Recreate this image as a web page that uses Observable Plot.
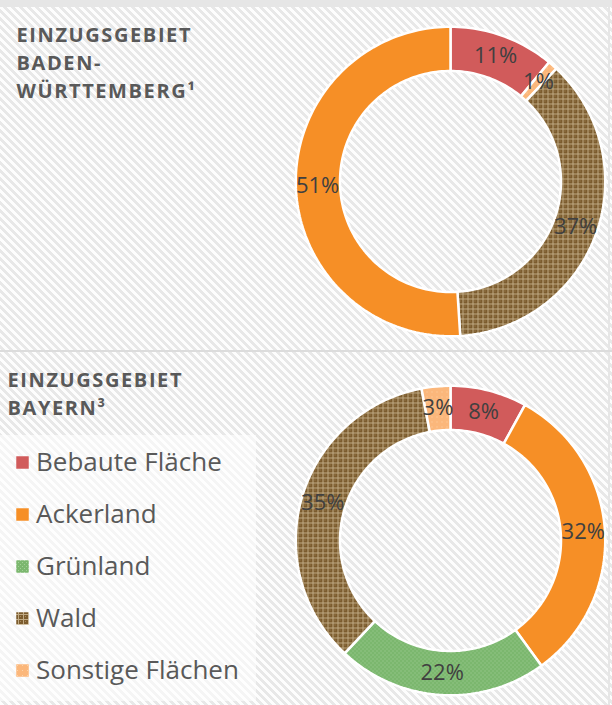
<!DOCTYPE html>
<html><head><meta charset="utf-8">
<script src="https://cdn.jsdelivr.net/npm/d3@7"></script>
<script src="https://cdn.jsdelivr.net/npm/@observablehq/plot@0.6"></script>
<style>
html,body{margin:0;padding:0;}
body{width:612px;height:705px;overflow:hidden;position:relative;font-family:"Open Sans",sans-serif;
  background:repeating-linear-gradient(45deg,#fdfdfd 0px,#fdfdfd 3px,#e8e8e8 3px,#e8e8e8 5.66px);}
.band{position:absolute;background:#e6e6e6;}
.title{position:absolute;font-weight:700;font-size:20px;line-height:28px;letter-spacing:1.6px;color:#595959;white-space:nowrap;}
.chart{position:absolute;width:320px;height:320px;}
.legend{position:absolute;left:0;top:435px;width:256px;height:266px;background:rgba(255,255,255,0.55);}
.row{position:absolute;left:0;height:52px;width:256px;}
.row svg{position:absolute;left:16px;top:21px;}
.row span{position:absolute;left:36px;top:0;font-size:26px;line-height:52px;color:#595959;white-space:nowrap;}
</style></head>
<body>
<svg width="0" height="0" style="position:absolute">
  <defs>
    <pattern id="pWald" width="5" height="5" patternUnits="userSpaceOnUse">
      <rect width="5" height="5" fill="#7c5c2e"/>
      <rect x="0" y="2" width="5" height="1" fill="#c0aa84"/>
      <rect x="2" y="0" width="1" height="5" fill="#c0aa84"/>
      <rect x="4" y="4" width="1" height="1" fill="#a3875b"/>
    </pattern>
    <pattern id="pGruen" width="4" height="4" patternUnits="userSpaceOnUse">
      <rect width="4" height="4" fill="#7bb76e"/>
      <rect x="0" y="0" width="1" height="1" fill="#a3cf98"/>
      <rect x="2" y="2" width="1" height="1" fill="#a3cf98"/>
    </pattern>
    <pattern id="pSonst" width="5" height="5" patternUnits="userSpaceOnUse">
      <rect width="5" height="5" fill="#fbb77b"/>
      <rect x="1" y="1" width="1" height="1" fill="#fdd3a8"/>
    </pattern>
  </defs>
</svg>
<div class="band" style="left:0;top:0;width:612px;height:7px;"></div>
<div class="band" style="left:608px;top:0;width:2px;height:705px;"></div>
<div class="band" style="left:0;top:350px;width:612px;height:2px;background:#dcdcdc;"></div>
<div class="title" style="left:16.5px;top:21px;">EINZUGSGEBIET<br>BADEN-<br>WÜRTTEMBERG¹</div>
<div class="title" style="left:7.5px;top:365.5px;">EINZUGSGEBIET<br>BAYERN³</div>
<div id="c1" class="chart" style="left:289.5px;top:21px;"></div>
<div id="c2" class="chart" style="left:290px;top:379.5px;"></div>
<div id="legend" class="legend"></div>
<script>
// ---- data ----
const categories = ["Bebaute Fläche", "Ackerland", "Grünland", "Wald", "Sonstige Flächen"];
const bwOrder = ["Bebaute Fläche", "Sonstige Flächen", "Wald", "Ackerland"];
const bwValues = [11, 1, 37, 51];
const byOrder = ["Bebaute Fläche", "Ackerland", "Grünland", "Wald", "Sonstige Flächen"];
const byValues = [8, 32, 22, 35, 3];

// ---- style ----
const fills = ["#d15b5b", "#f68f26", "url(#pGruen)", "url(#pWald)", "url(#pSonst)"];
const R_OUT = 154.75, R_IN = 110.5, R_LAB = 133;

function ring(order, values) {
  const total = d3.sum(values);
  let acc = 0;
  const pts = [], labels = [];
  order.forEach((cat, i) => {
    const a0 = acc / total, a1 = (acc + values[i]) / total;
    acc += values[i];
    const n = Math.max(2, Math.ceil((a1 - a0) * 240));
    for (let k = 0; k <= n; k++) {
      const t = 2 * Math.PI * (a0 + (a1 - a0) * k / n);
      pts.push({cat, x: R_OUT * Math.sin(t), y: -R_OUT * Math.cos(t)});
    }
    for (let k = n; k >= 0; k--) {
      const t = 2 * Math.PI * (a0 + (a1 - a0) * k / n);
      pts.push({cat, x: R_IN * Math.sin(t), y: -R_IN * Math.cos(t)});
    }
    const tm = Math.PI * (a0 + a1);
    labels.push({cat, text: values[i] + "%", x: R_LAB * Math.sin(tm), y: -R_LAB * Math.cos(tm)});
  });
  return {pts, labels};
}

function donut(order, values) {
  const {pts, labels} = ring(order, values);
  return Plot.plot({
    width: 320, height: 320, margin: 0,
    style: {background: "transparent", overflow: "visible"},
    x: {domain: [-160, 160], axis: null},
    y: {domain: [-160, 160], range: [0, 320], axis: null},
    color: {type: "ordinal", domain: categories, range: fills},
    marks: [
      Plot.line(pts, {x: "x", y: "y", z: "cat", fill: "cat", stroke: "white", strokeWidth: 2.5,
        strokeLinejoin: "miter", curve: "linear-closed"}),
      Plot.text(labels, {x: "x", y: "y", text: "text", fill: "#404040", fontSize: 22,
        fontFamily: "Open Sans", letterSpacing: "1px"})
    ]
  });
}

const ch1 = donut(bwOrder, bwValues);
document.getElementById("c1").append(ch1);
document.getElementById("c2").append(donut(byOrder, byValues));

const color = ch1.scale("color");
const leg = document.getElementById("legend");
categories.forEach((cat, i) => {
  const row = document.createElement("div");
  row.className = "row";
  row.style.top = (i * 52) + "px";
  row.innerHTML = `<svg width="13" height="13"><rect width="13" height="13" fill="${color.apply(cat)}" stroke="white" stroke-width="0.5"/></svg><span>${cat}</span>`;
  leg.append(row);
});
</script>
</body></html>
